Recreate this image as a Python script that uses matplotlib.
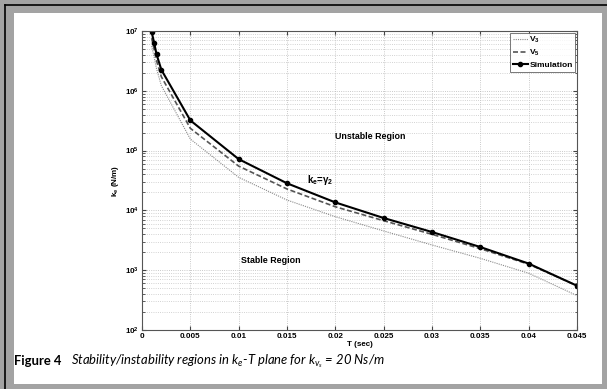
import numpy as np
import matplotlib.pyplot as plt
from matplotlib.patches import Rectangle
from matplotlib.lines import Line2D

# data
T = [0.001, 0.00125, 0.0015, 0.002, 0.005, 0.01, 0.015, 0.02, 0.025, 0.03, 0.035, 0.04, 0.045]
k_sim = [9.6e6, 6.4e6, 4.1e6, 2.25e6, 3.2e5, 7.2e4, 2.84e4, 1.36e4, 7.46e3, 4.35e3, 2.44e3, 1.29e3, 5.5e2]
k_v5 = [7.6e6, 5.0e6, 3.2e6, 1.72e6, 2.36e5, 5.5e4, 2.28e4, 1.15e4, 6.73e3, 3.98e3, 2.29e3, 1.26e3, 5.5e2]
k_v3 = [5.6e6, 3.7e6, 2.35e6, 1.22e6, 1.56e5, 3.57e4, 1.49e4, 7.85e3, 4.53e3, 2.64e3, 1.58e3, 8.9e2, 3.76e2]
x_ticks = [0, 0.005, 0.01, 0.015, 0.02, 0.025, 0.03, 0.035, 0.04, 0.045]
x_ticklabels = ['0', '0.005', '0.01', '0.015', '0.02', '0.025', '0.03', '0.035', '0.04', '0.045']

plt.rcParams['font.family'] = ['Liberation Sans', 'DejaVu Sans']
# math fonts: italic Lato for the caption, bold Arial-like via \mathbf for the plot
plt.rcParams['mathtext.fontset'] = 'custom'
plt.rcParams['mathtext.rm'] = 'Lato:italic'
plt.rcParams['mathtext.it'] = 'Lato:italic'
plt.rcParams['mathtext.bf'] = 'Liberation Sans:bold'

W, H = 607, 389
fig = plt.figure(figsize=(W / 100, H / 100), dpi=100)
fig.patch.set_facecolor('#a3a3a3')

# page frame: black rule on top/left, white page inside
fig.add_artist(Line2D([5 / W, 1], [1 - 5 / H, 1 - 5 / H], color='black', lw=1.2))
fig.add_artist(Line2D([5 / W, 5 / W], [0, 1 - 5 / H], color='black', lw=1.2))
fig.add_artist(Rectangle((14 / W, 1 - 384 / H), (602 - 14) / W, (384 - 13) / H,
                         facecolor='white', edgecolor='none', zorder=0))

ax = fig.add_axes([142 / W, 1 - 330 / H, (577 - 142) / W, (330 - 31) / H])
ax.set_yscale('log')
ax.set_xlim(0, 0.045)
ax.set_ylim(1e2, 1e7)

ax.plot(T, k_v3, color='#8a8a8a', lw=0.8, ls=(0, (1, 1)), label=r'$\mathbf{V_3}$')
ax.plot(T, k_v5, color='#555555', lw=1.2, ls=(0, (3, 1.5)), label=r'$\mathbf{V_5}$')
ax.plot(T, k_sim, color='black', lw=1.5, marker='o', ms=3, label='Simulation')

ax.set_xticks(x_ticks)
ax.set_xticklabels(x_ticklabels)
ax.grid(True, which='major', color='#b8b8b8', ls=':', lw=0.6)
ax.grid(True, which='minor', axis='y', color='#c4c4c4', ls=':', lw=0.6)
ax.tick_params(which='both', direction='in', top=True, right=True, labelsize=5.8,
               color='#444444', pad=2)
ax.tick_params(which='major', length=3)
ax.tick_params(which='minor', length=1.8)
for lab in ax.get_xticklabels():
    lab.set_fontweight('bold')
ax.yaxis.set_major_formatter(plt.FuncFormatter(
    lambda v, p: r'$\mathbf{10^{%d}}$' % round(np.log10(v))))
for s in ax.spines.values():
    s.set_color('#555555')
    s.set_linewidth(0.8)

ax.set_xlabel('T (sec)', fontsize=5.8, fontweight='bold', labelpad=1)
ax.set_ylabel(r'$\mathbf{k_e}$ (N/m)', fontsize=5.8, fontweight='bold', labelpad=3)

ax.text(0.0236, 1.75e5, 'Unstable Region', fontsize=6.4, fontweight='bold', ha='center', va='center')
ax.text(0.0133, 1.43e3, 'Stable Region', fontsize=6.4, fontweight='bold', ha='center', va='center')
ax.text(0.0184, 3.2e4, r'$\mathbf{k_e}$=$\mathbf{\gamma_2}$', fontsize=7, fontweight='bold',
        ha='center', va='center')

leg = ax.legend(loc='upper right', frameon=True, fancybox=False,
                handlelength=1.8, handletextpad=0.2, borderpad=0.3, labelspacing=0.35,
                borderaxespad=0.2, prop={'weight': 'bold', 'size': 6})
leg.get_frame().set_edgecolor('#555555')
leg.get_frame().set_linewidth(0.7)

# caption
fig.text(14 / W, 1 - 361 / H, 'Figure 4', fontsize=9.4, fontweight='bold',
         family=['Lato', 'DejaVu Sans'], va='center')
fig.text(71 / W, 1 - 361 / H,
         r'Stability/instability regions in $k_e$-T plane for $k_{v_s}$ = 20 Ns/m',
         fontsize=9.4, style='italic', family=['Lato', 'DejaVu Sans'], va='center')

fig.savefig('out.png', dpi=100, facecolor=fig.get_facecolor())
